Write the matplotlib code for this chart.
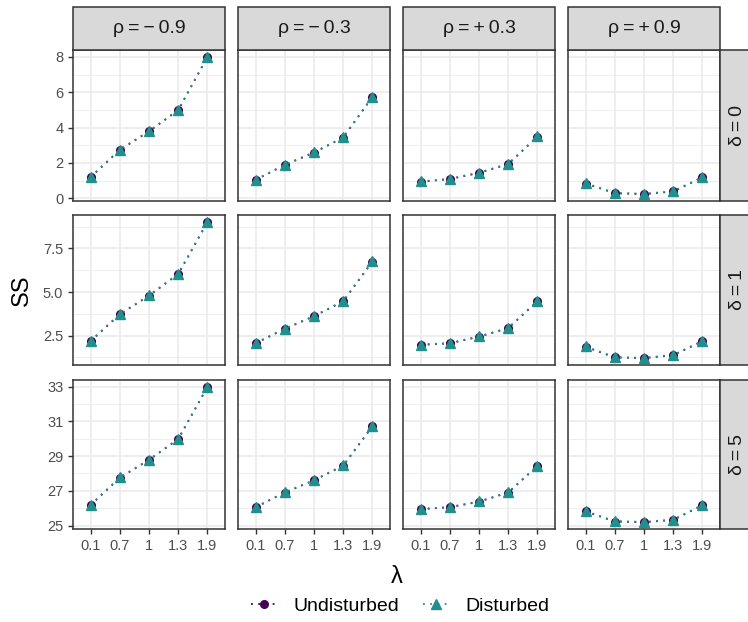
import matplotlib
matplotlib.use("Agg")
import matplotlib.pyplot as plt
from matplotlib.lines import Line2D
from matplotlib.patches import Rectangle
import numpy as np

plt.rcParams['font.family'] = ['Liberation Sans', 'DejaVu Sans']

lambdas = ["0.1", "0.7", "1", "1.3", "1.9"]
rhos = ["ρ\u2009=\u2009−\u20090.9", "ρ\u2009=\u2009−\u20090.3",
        "ρ\u2009=\u2009+\u20090.3", "ρ\u2009=\u2009+\u20090.9"]
deltas = ["δ\u2009=\u20090", "δ\u2009=\u20091", "δ\u2009=\u20095"]

# Disturbed SS values [delta][rho]
dist_d0 = [[1.2, 2.75, 3.8, 5.0, 8.0],
           [1.05, 1.9, 2.6, 3.45, 5.75],
           [0.95, 1.1, 1.45, 1.95, 3.5],
           [0.85, 0.3, 0.25, 0.4, 1.2]]
dist_d1 = [[2.2, 3.74, 4.81, 6.05, 9.03],
           [2.08, 2.91, 3.63, 4.49, 6.77],
           [1.99, 2.08, 2.46, 2.95, 4.49],
           [1.88, 1.27, 1.23, 1.4, 2.2]]
dist_d5 = [[26.19, 27.77, 28.80, 30.0, 33.0],
           [26.07, 26.92, 27.62, 28.47, 30.74],
           [25.96, 26.07, 26.39, 26.92, 28.45],
           [25.83, 25.25, 25.21, 25.34, 26.19]]
# Undisturbed SS values [delta][rho]
und_d0 = [[1.18, 2.73, 3.78, 4.98, 8.0],
          [1.03, 1.88, 2.58, 3.43, 5.73],
          [0.93, 1.08, 1.43, 1.93, 3.48],
          [0.83, 0.28, 0.23, 0.38, 1.18]]
und_d1 = [[2.18, 3.72, 4.79, 6.03, 9.01],
          [2.06, 2.89, 3.61, 4.47, 6.75],
          [1.97, 2.06, 2.44, 2.93, 4.47],
          [1.86, 1.25, 1.21, 1.38, 2.18]]
und_d5 = [[26.17, 27.75, 28.78, 29.98, 32.98],
          [26.05, 26.90, 27.60, 28.45, 30.72],
          [25.94, 26.05, 26.37, 26.90, 28.43],
          [25.81, 25.23, 25.19, 25.32, 26.17]]

dist = [dist_d0, dist_d1, dist_d5]
und = [und_d0, und_d1, und_d5]

yticks_rows = [[0, 2, 4, 6, 8], [2.5, 5.0, 7.5], [25, 27, 29, 31, 33]]
ytick_labels_rows = [["0", "2", "4", "6", "8"], ["2.5", "5.0", "7.5"], ["25", "27", "29", "31", "33"]]

col_undist = "#440154"
col_dist = "#21908C"
grey20 = "#333333"
grey30 = "#4D4D4D"
grid_col = "#EBEBEB"

W, H = 748, 622
fig = plt.figure(figsize=(W / 100, H / 100), dpi=100)

xl = [73, 238, 403, 568]
pw = 152
rows_y = [(50, 201), (215, 365), (380, 529)]
strip_top = 7

x = np.arange(len(lambdas))

for r in range(3):
    y0, y1 = rows_y[r]
    allv = np.array(dist[r] + und[r]).ravel()
    lo, hi = allv.min(), allv.max()
    pad = (hi - lo) * 0.05
    yt = yticks_rows[r]
    step = yt[1] - yt[0]
    minors = [t + step / 2 for t in ([yt[0] - step] + yt)]
    for c in range(4):
        ax = fig.add_axes([xl[c] / W, 1 - y1 / H, pw / W, (y1 - y0) / H])
        ax.set_xlim(-0.6, 4.6)
        ax.set_ylim(lo - pad, hi + pad)
        for m in minors:
            ax.axhline(m, color=grid_col, lw=0.6, zorder=0)
        for t in yt:
            ax.axhline(t, color=grid_col, lw=1.2, zorder=0)
        for xi in x:
            ax.axvline(xi, color=grid_col, lw=1.2, zorder=0)
        ax.plot(x, und[r][c], linestyle=(0, (1, 3)), color=col_undist, lw=1.3,
                marker='o', ms=5.5, zorder=3)
        ax.plot(x, dist[r][c], linestyle=(0, (1, 3)), color=col_dist, lw=1.3,
                marker='^', ms=6.5, zorder=4)
        for s in ax.spines.values():
            s.set_color(grey20)
            s.set_linewidth(1.1)
        ax.set_xticks(x)
        ax.set_yticks(yt)
        ax.tick_params(colors=grey20, length=3.5, width=1, labelsize=10.5,
                       labelcolor=grey30)
        if r == 2:
            ax.set_xticklabels(lambdas)
        else:
            ax.tick_params(axis='x', length=0, labelbottom=False)
        if c == 0:
            ax.set_yticklabels(ytick_labels_rows[r])
        else:
            ax.tick_params(axis='y', length=0, labelleft=False)
        # top strips
        if r == 0:
            fig.patches.append(Rectangle((xl[c] / W, 1 - y0 / H), pw / W, (y0 - strip_top) / H,
                                         transform=fig.transFigure, facecolor="#D9D9D9",
                                         edgecolor=grey20, lw=1.1, zorder=1))
            fig.text((xl[c] + pw / 2) / W, 1 - (y0 + strip_top) / 2 / H, rhos[c],
                     ha='center', va='center', fontsize=14, color="#1A1A1A")
        if c == 3:
            fig.patches.append(Rectangle(((xl[c] + pw) / W, 1 - y1 / H), 43 / W, (y1 - y0) / H,
                                         transform=fig.transFigure, facecolor="#D9D9D9",
                                         edgecolor=grey20, lw=1.1, zorder=1))
            fig.text((xl[c] + pw + 18) / W, 1 - (y0 + y1) / 2 / H, deltas[r],
                     ha='center', va='center', fontsize=14, rotation=90, color="#1A1A1A")

fig.text(22 / W, 1 - 290 / H, "SS", rotation=90, ha='center', va='center', fontsize=17)
fig.text(397 / W, 1 - 577 / H, "λ", ha='center', va='center', fontsize=17)

handles = [Line2D([], [], linestyle=(0, (1, 3)), color=col_undist, lw=1.3, marker='o', ms=5.5),
           Line2D([], [], linestyle=(0, (1, 3)), color=col_dist, lw=1.3, marker='^', ms=6.5)]
fig.legend(handles, ["Undisturbed", "Disturbed"], loc='center', bbox_to_anchor=(400 / W, 1 - 606 / H),
           ncol=2, frameon=False, fontsize=14, handlelength=1.4, columnspacing=1.2,
           handletextpad=0.8)

fig.savefig("out.png", dpi=100)
